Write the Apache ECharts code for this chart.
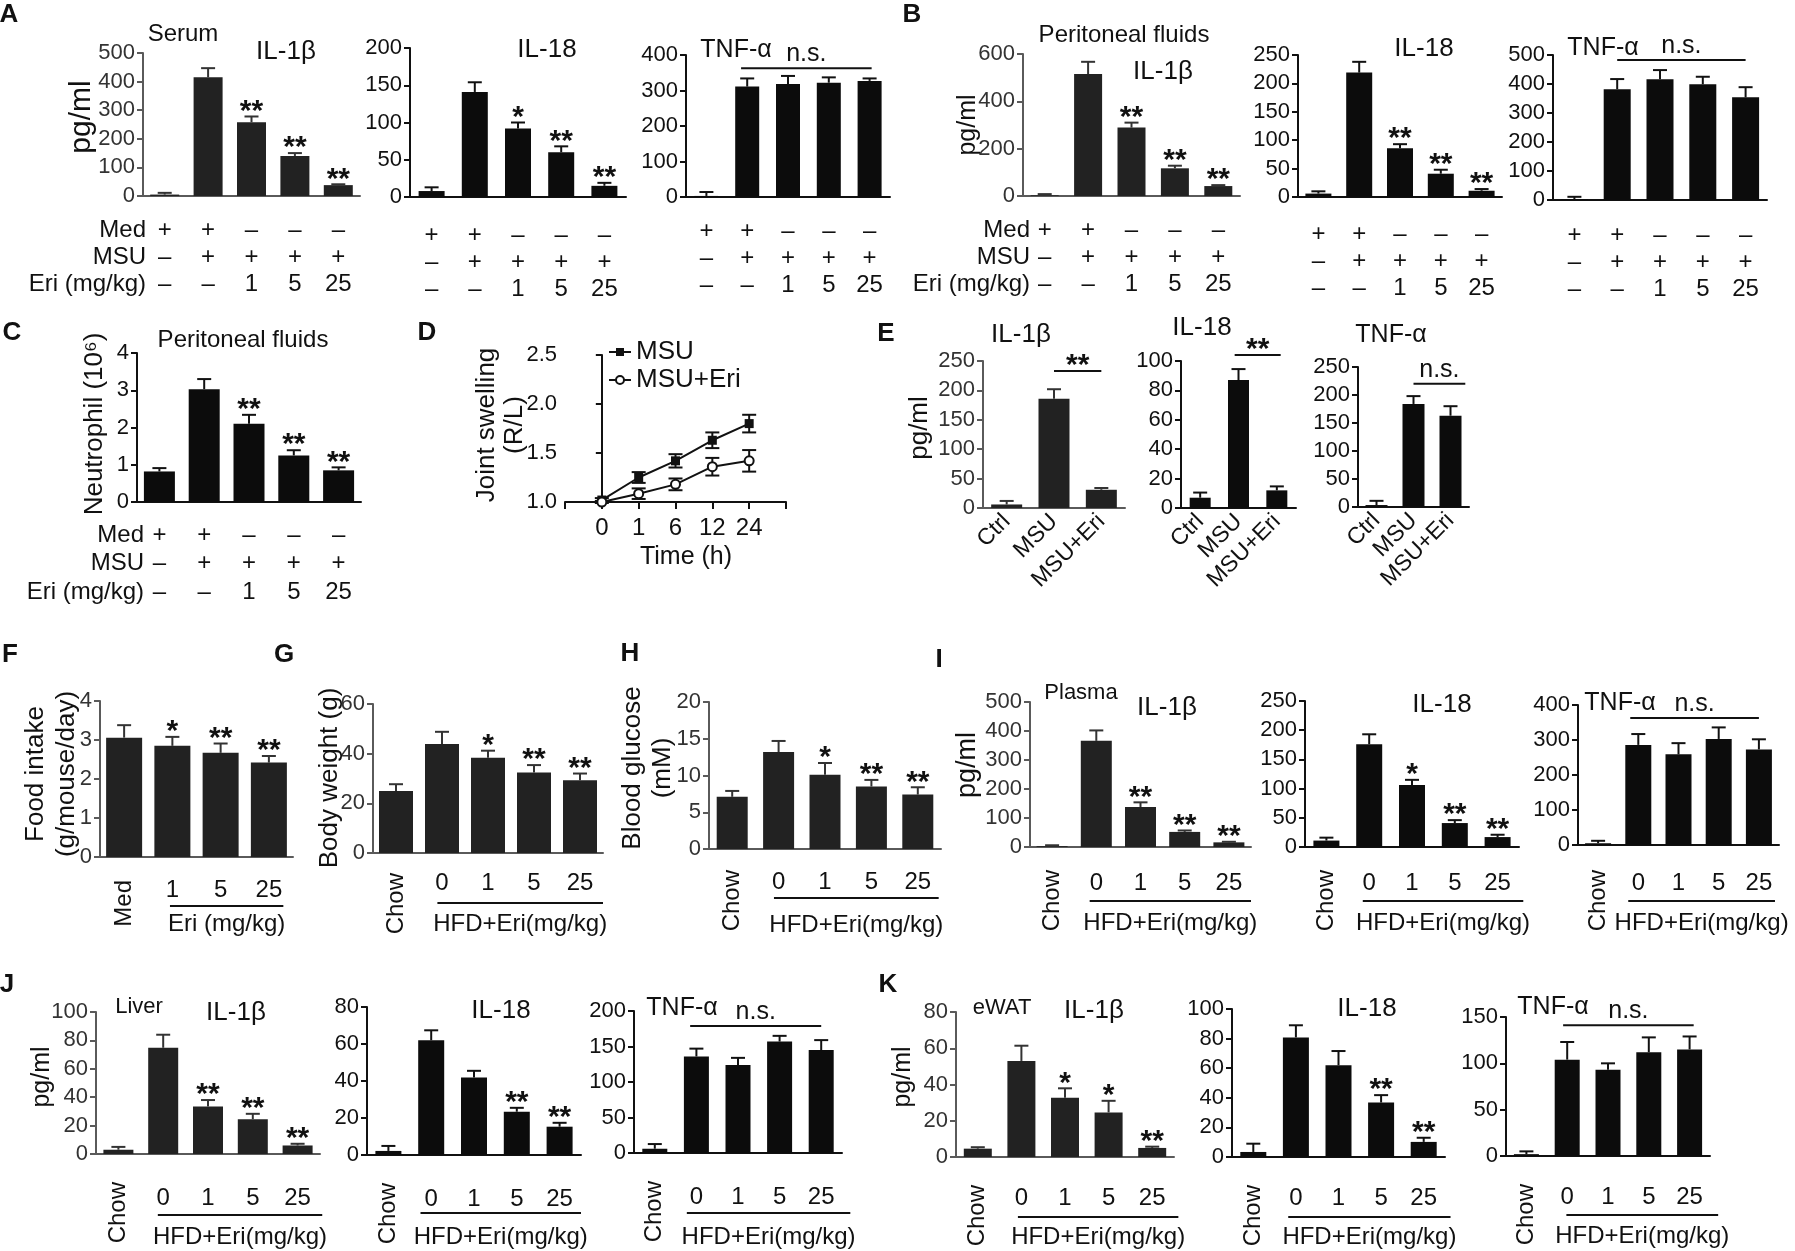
<!DOCTYPE html>
<html>
<head>
<meta charset="utf-8">
<script src="https://cdn.jsdelivr.net/npm/echarts@6/dist/echarts.min.js"></script>
<style>
html, body { margin: 0; padding: 0; background: #fff; }
#main { width: 1795px; height: 1251px; }
</style>
</head>
<body>
<div id="main"></div>
<script>
// ---- categories / row labels ----
var medRow = ['+', '+', '–', '–', '–'];
var msuRow = ['–', '+', '+', '+', '+'];
var eriRow = ['–', '–', '1', '5', '25'];
var hfdCats = ['Chow', '0', '1', '5', '25'];
var foodCats = ['Med', '1', '5', '25'];
var gaCats = ['Ctrl', 'MSU', 'MSU+Eri'];
var timeCats = ['0', '1', '6', '12', '24'];

// ---- values (mean, SEM) ----
var serumIl1b = [5, 415, 258, 140, 38],      serumIl1bErr = [6, 32, 20, 10, 3];
var serumIl18 = [8, 141, 92, 60, 15],        serumIl18Err = [5, 13, 8, 8, 4];
var serumTnf = [3, 311, 318, 322, 327],      serumTnfErr = [11, 23, 23, 15, 7];
var periIl1b = [3, 515, 289, 117, 42],       periIl1bErr = [5, 52, 21, 11, 4];
var periIl18 = [6, 219, 86, 41, 11],         periIl18Err = [4, 19, 7, 7, 3];
var periTnf = [3, 382, 416, 399, 354],       periTnfErr = [8, 35, 32, 26, 35];
var neutro = [0.82, 3.03, 2.10, 1.25, 0.85], neutroErr = [0.09, 0.27, 0.24, 0.14, 0.08];
var swellMsu = [1.02, 1.25, 1.42, 1.63, 1.80], swellMsuErr = [0.02, 0.055, 0.068, 0.08, 0.09];
var swellEri = [1.00, 1.085, 1.18, 1.36, 1.42], swellEriErr = [0.01, 0.054, 0.06, 0.09, 0.11];
var gaIl1b = [6, 186, 31],                   gaIl1bErr = [6, 16, 3];
var gaIl18 = [7, 87, 12],                    gaIl18Err = [3.5, 7.5, 2.7];
var gaTnf = [3.5, 184, 163],                 gaTnfErr = [7.5, 14, 17];
var food = [3.06, 2.85, 2.67, 2.42],         foodErr = [0.32, 0.23, 0.24, 0.17];
var bodyWt = [25.0, 43.9, 38.4, 32.4, 29.3], bodyWtErr = [2.7, 4.9, 2.8, 3.0, 2.7];
var glucose = [7.1, 13.2, 10.1, 8.5, 7.4],   glucoseErr = [0.8, 1.5, 1.6, 0.9, 1.0];
var plasIl1b = [3, 366, 138, 52, 16],        plasIl1bErr = [3, 36, 16, 5, 2];
var plasIl18 = [11, 176, 106, 41, 17],       plasIl18Err = [5, 17, 9, 5, 4];
var plasTnf = [5, 286, 259, 303, 273],       plasTnfErr = [7, 31, 32, 33, 29];
var livIl1b = [3, 74.8, 33.4, 24.5, 6],      livIl1bErr = [2, 9.2, 4.6, 3.8, 1.2];
var livIl18 = [2.2, 62, 41.9, 23.4, 15.3],   livIl18Err = [2.7, 5.4, 3.6, 2.1, 2.1];
var livTnf = [6, 136, 124, 157, 145],        livTnfErr = [6.6, 11, 10, 8, 14];
var watIl1b = [4.6, 53, 32.7, 24.6, 5],      watIl1bErr = [0.8, 8.4, 5.2, 6.4, 0.7];
var watIl18 = [3.4, 80.8, 62, 36.8, 10.2],   watIl18Err = [5.6, 8.2, 9.6, 5, 2.8];
var watTnf = [2, 104, 93, 112, 115],         watTnfErr = [3, 19, 7, 16, 14];

// significance marks
var starsMain = ['', '', '**', '**', '**'];
var starsOne = ['', '', '*', '**', '**'];
var starsLate = ['', '', '', '**', '**'];
var starsWat = ['', '', '*', '*', '**'];
var starsFood = ['', '*', '**', '**'];

var FONT = "'Liberation Sans', Arial, sans-serif";
var INK = '#111';

var grids = [], xAxes = [], yAxes = [], series = [], graphics = [];

function line(x1, y1, x2, y2, c) {
    return { type: 'line', shape: { x1: x1, y1: y1, x2: x2, y2: y2 }, style: { stroke: c || INK, lineWidth: 2 } };
}

function addText(txt, x, y, size, opt) {
    opt = opt || {};
    graphics.push({
        type: 'text', x: x, y: y, rotation: opt.rot ? Math.PI / 2 : 0, z: 50,
        style: {
            text: txt, fontSize: size, fontFamily: FONT, fontWeight: opt.bold ? 'bold' : 'normal',
            fill: INK, align: opt.align || 'center', verticalAlign: 'middle'
        }
    });
}

function addErr(xi, yi, mean, err, stars, both, col) {
    series.push({
        type: 'custom', xAxisIndex: xi, yAxisIndex: yi, silent: true, z: 5, clip: false,
        data: mean.map(function (m, i) { return [i, m, err[i]]; }),
        renderItem: function (params, api) {
            var i = api.value(0), m = api.value(1), e = api.value(2);
            var top = api.coord([i, m + e]);
            var bot = api.coord([i, both ? m - e : m]);
            var hw = 7;
            var kids = [line(top[0], top[1], bot[0], bot[1], col), line(top[0] - hw, top[1], top[0] + hw, top[1], col)];
            if (both) kids.push(line(bot[0] - hw, bot[1], bot[0] + hw, bot[1], col));
            var s = stars && stars[params.dataIndex];
            if (s) {
                kids.push({ type: 'text', x: top[0], y: top[1] + 10,
                    style: { text: s, fontSize: 30, fontWeight: 'bold', fontFamily: FONT, fill: INK, align: 'center', verticalAlign: 'bottom' } });
            }
            return { type: 'group', children: kids };
        }
    });
}

// horizontal bracket with text (n.s. / **) spanning category positions u0..u1
function addBracket(xi, yi, u0, u1, val, txt) {
    var ns = txt === 'n.s.';
    series.push({
        type: 'custom', xAxisIndex: xi, yAxisIndex: yi, silent: true, clip: false, z: 6,
        data: [[0, val]],
        renderItem: function (params, api) {
            var c = api.coord([0, api.value(1)]);
            var band = api.size([1, 0])[0];
            var xa = c[0] + u0 * band, xb = c[0] + u1 * band;
            return { type: 'group', children: [
                line(xa, c[1], xb, c[1]),
                { type: 'text', x: (xa + xb) / 2, y: c[1] - (ns ? 14 : 5),
                  style: { text: txt, fontSize: ns ? 25 : 30, fontWeight: ns ? 'normal' : 'bold', fontFamily: FONT, fill: INK, align: 'center', verticalAlign: 'middle' } }
            ] };
        }
    });
}

// underline + group caption below x axis
function addGroup(xi, yi, u0, u1, ul, tl, txt) {
    series.push({
        type: 'custom', xAxisIndex: xi, yAxisIndex: yi, silent: true, clip: false, z: 6,
        data: [[0, 0]],
        renderItem: function (params, api) {
            var c = api.coord([0, 0]);
            var band = api.size([1, 0])[0];
            var xa = c[0] + u0 * band, xb = c[0] + u1 * band;
            return { type: 'group', children: [
                line(xa, c[1] + ul, xb, c[1] + ul),
                { type: 'text', x: (xa + xb) / 2, y: c[1] + tl,
                  style: { text: txt, fontSize: 24, fontFamily: FONT, fill: INK, align: 'center', verticalAlign: 'middle' } }
            ] };
        }
    });
}

function barPanel(p) {
    var gi = grids.length;
    var axC = p.soft ? '#5a5a5a' : INK;
    var labC = p.soft ? '#333' : INK;
    grids.push({ left: p.x0, top: p.y0, width: p.x1 - p.x0, height: p.y1 - p.y0 });
    var xi = xAxes.length;
    var cats = p.cats;
    var lab = { fontSize: 24, color: INK, fontFamily: FONT, interval: 0, margin: p.lm || 20 };
    if (p.mode === 'pm') {
        cats = medRow.map(function (m, i) { return m + '\n' + msuRow[i] + '\n' + eriRow[i]; });
        lab.lineHeight = p.lh || 27;
        lab.margin = p.lm || 21;
    } else if (p.mode === 'rot') {
        lab.rotate = 45; lab.fontSize = 23; lab.margin = 10;
    } else {
        lab.formatter = function (v, i) { return i === 0 ? '' : v; };
        lab.margin = (p.lm || 20) - 1;
    }
    xAxes.push({
        gridIndex: gi, type: 'category', data: cats, position: 'bottom',
        axisLine: { lineStyle: { color: axC, width: 2 } },
        axisTick: { alignWithLabel: true, length: 7, lineStyle: { color: axC, width: 2 } },
        axisLabel: lab
    });
    if (p.mode === 'grp') {
        xAxes.push({
            gridIndex: gi, type: 'category', data: cats, position: 'bottom', offset: 0,
            axisLine: { show: false }, axisTick: { show: false },
            axisLabel: { rotate: 90, fontSize: 24, color: INK, fontFamily: FONT, interval: 0, margin: p.rm || 20,
                formatter: function (v, i) { return i === 0 ? v : ''; } }
        });
    }
    var yi = yAxes.length;
    yAxes.push({
        gridIndex: gi, type: 'value', min: 0, max: p.max, interval: p.step,
        splitLine: { show: false },
        axisLine: { show: true, lineStyle: { color: axC, width: 2 } },
        axisTick: { show: true, length: 6, lineStyle: { color: axC, width: 2 } },
        axisLabel: { fontSize: 22, color: labC, fontFamily: FONT, margin: 8 }
    });
    series.push({
        type: 'bar', xAxisIndex: xi, yAxisIndex: yi, data: p.mean, barWidth: p.bw, silent: true, z: 3,
        itemStyle: { color: p.soft ? '#222' : '#0c0c0c' }
    });
    addErr(xi, yi, p.mean, p.err, p.stars, false, p.soft ? '#333' : INK);
    if (p.ns) addBracket(xi, yi, p.ns[0], p.ns[1], p.ns[2], 'n.s.');
    if (p.sig) addBracket(xi, yi, p.sig[0], p.sig[1], p.sig[2], p.sig[3]);
    if (p.grp) addGroup(xi, yi, p.grp[0], p.grp[1], p.ul, p.tl, p.grp[2]);
    if (p.heads) {
        var lh = p.lh || 27, y = p.y1 + (p.lm || 21) + lh / 2;
        ['Med', 'MSU', 'Eri (mg/kg)'].forEach(function (h, k) {
            addText(h, p.heads, y + k * lh, 24, { align: 'right' });
        });
    }
}

var hfd = 'HFD+Eri(mg/kg)';
var panels = [
    // A
    { x0: 143, x1: 360, y0: 53, y1: 196, max: 500, step: 100, mode: 'pm', bw: 29, soft: true, mean: serumIl1b, err: serumIl1bErr, stars: starsMain, heads: 146 },
    { x0: 410, x1: 626, y0: 48, y1: 197, max: 200, step: 50, mode: 'pm', bw: 26, mean: serumIl18, err: serumIl18Err, stars: starsOne, lm: 25 },
    { x0: 686, x1: 890, y0: 55, y1: 197, max: 400, step: 100, mode: 'pm', bw: 24, mean: serumTnf, err: serumTnfErr, ns: [0.85, 4.05, 363] },
    // B
    { x0: 1023, x1: 1240, y0: 54, y1: 196, max: 600, step: 200, mode: 'pm', bw: 28, soft: true, mean: periIl1b, err: periIl1bErr, stars: starsMain, heads: 1030 },
    { x0: 1298, x1: 1502, y0: 55, y1: 197, max: 250, step: 50, mode: 'pm', bw: 26, mean: periIl18, err: periIl18Err, stars: starsMain, lm: 24 },
    { x0: 1553, x1: 1767, y0: 55, y1: 200, max: 500, step: 100, mode: 'pm', bw: 27, mean: periTnf, err: periTnfErr, ns: [1, 4, 483], lm: 22 },
    // C
    { x0: 137, x1: 361, y0: 353, y1: 502, max: 4, step: 1, mode: 'pm', lh: 28.5, lm: 19, bw: 31, mean: neutro, err: neutroErr, stars: starsMain, heads: 144 },
    // E
    { x0: 983, x1: 1125, y0: 361, y1: 508, max: 250, step: 50, mode: 'rot', cats: gaCats, bw: 31, soft: true, mean: gaIl1b, err: gaIl1bErr, sig: [1, 2, 233, '**'] },
    { x0: 1181, x1: 1296, y0: 361, y1: 508, max: 100, step: 20, mode: 'rot', cats: gaCats, bw: 21, mean: gaIl18, err: gaIl18Err, sig: [0.9, 2.1, 104, '**'] },
    { x0: 1358, x1: 1469, y0: 367, y1: 507, max: 250, step: 50, mode: 'rot', cats: gaCats, bw: 22, mean: gaTnf, err: gaTnfErr, sig: [1, 2.4, 220, 'n.s.'] },
    // F G H
    { x0: 100, x1: 293, y0: 701, y1: 857, max: 4, step: 1, mode: 'grp', cats: foodCats, bw: 36, soft: true, mean: food, err: foodErr, stars: starsFood, grp: [0.95, 3.3, 'Eri (mg/kg)'], lm: 22, rm: 23, ul: 49, tl: 67 },
    { x0: 373, x1: 603, y0: 704, y1: 853, max: 60, step: 20, mode: 'grp', cats: hfdCats, bw: 34, soft: true, mean: bodyWt, err: bodyWtErr, stars: starsOne, grp: [0.9, 4.5, hfd], lm: 19, rm: 20, ul: 50, tl: 71 },
    { x0: 709, x1: 941, y0: 702, y1: 849, max: 20, step: 5, mode: 'grp', cats: hfdCats, bw: 31, soft: true, mean: glucose, err: glucoseErr, stars: starsOne, grp: [0.9, 4.45, hfd], lm: 22, rm: 21, ul: 49, tl: 76 },
    // I
    { x0: 1030, x1: 1251, y0: 702, y1: 847, max: 500, step: 100, mode: 'grp', cats: hfdCats, bw: 31, soft: true, mean: plasIl1b, err: plasIl1bErr, stars: starsMain, grp: [0.85, 4.5, hfd], lm: 25, rm: 23, ul: 54, tl: 76 },
    { x0: 1305, x1: 1519, y0: 701, y1: 847, max: 250, step: 50, mode: 'grp', cats: hfdCats, bw: 26, mean: plasIl18, err: plasIl18Err, stars: starsOne, grp: [0.85, 4.6, hfd], lm: 25, rm: 23, ul: 54, tl: 76 },
    { x0: 1578, x1: 1779, y0: 705, y1: 845, max: 400, step: 100, mode: 'grp', cats: hfdCats, bw: 26, mean: plasTnf, err: plasTnfErr, ns: [0.8, 4, 363], grp: [0.75, 4.4, hfd], lm: 27, rm: 25, ul: 56, tl: 78 },
    // J
    { x0: 96, x1: 320, y0: 1012, y1: 1154, max: 100, step: 20, mode: 'grp', cats: hfdCats, bw: 30, soft: true, mean: livIl1b, err: livIl1bErr, stars: starsMain, grp: [0.88, 4.55, hfd], lm: 33, rm: 28, ul: 61, tl: 83 },
    { x0: 367, x1: 581, y0: 1007, y1: 1155, max: 80, step: 20, mode: 'grp', cats: hfdCats, bw: 26, mean: livIl18, err: livIl18Err, stars: starsLate, grp: [0.75, 4.5, hfd], lm: 33, rm: 28, ul: 58, tl: 82 },
    { x0: 634, x1: 842, y0: 1011, y1: 1153, max: 200, step: 50, mode: 'grp', cats: hfdCats, bw: 25, mean: livTnf, err: livTnfErr, ns: [0.85, 4, 179], grp: [0.77, 4.7, hfd], lm: 33, rm: 28, ul: 60, tl: 84 },
    // K
    { x0: 956, x1: 1174, y0: 1012, y1: 1157, max: 80, step: 20, mode: 'grp', cats: hfdCats, bw: 28, soft: true, mean: watIl1b, err: watIl1bErr, stars: starsWat, grp: [0.92, 4.6, hfd], lm: 30, rm: 28, ul: 60, tl: 80 },
    { x0: 1232, x1: 1445, y0: 1009, y1: 1157, max: 100, step: 20, mode: 'grp', cats: hfdCats, bw: 26, mean: watIl18, err: watIl18Err, stars: starsLate, grp: [0.82, 4.63, hfd], lm: 30, rm: 28, ul: 60, tl: 80 },
    { x0: 1506, x1: 1710, y0: 1017, y1: 1156, max: 150, step: 50, mode: 'grp', cats: hfdCats, bw: 25, mean: watTnf, err: watTnfErr, ns: [0.9, 4.1, 141], grp: [0.98, 4.7, hfd], lm: 30, rm: 28, ul: 59, tl: 80 }
];
panels.forEach(barPanel);

// ---- D: joint swelling time course ----
(function () {
    var gi = grids.length;
    grids.push({ left: 565, top: 355, width: 221, height: 147 });
    var xi = xAxes.length, yi = yAxes.length;
    xAxes.push({
        gridIndex: gi, type: 'value', min: -1, max: 5, interval: 1, splitLine: { show: false },
        axisLine: { onZero: false, lineStyle: { color: INK, width: 2 } },
        axisTick: { length: 7, lineStyle: { color: INK, width: 2 } },
        axisLabel: { fontSize: 24, color: INK, fontFamily: FONT, margin: 14,
            formatter: function (v) { return timeCats[v] !== undefined ? timeCats[v] : ''; } }
    });
    yAxes.push({
        gridIndex: gi, type: 'value', min: 1, max: 2.5, interval: 0.5, splitLine: { show: false },
        axisLine: { show: true, lineStyle: { color: INK, width: 2 } },
        axisTick: { show: true, length: 6, lineStyle: { color: INK, width: 2 } },
        axisLabel: { fontSize: 22, color: INK, fontFamily: FONT, margin: 8, formatter: function (v) { return v.toFixed(1); } }
    });
    addErr(xi, yi, swellMsu, swellMsuErr, null, true);
    addErr(xi, yi, swellEri, swellEriErr, null, true);
    series.push({
        name: 'MSU', type: 'line', xAxisIndex: xi, yAxisIndex: yi, z: 7,
        data: swellMsu.map(function (v, i) { return [i, v]; }),
        symbol: 'rect', symbolSize: 9, itemStyle: { color: INK }, lineStyle: { color: INK, width: 2 }
    });
    series.push({
        name: 'MSU+Eri', type: 'line', xAxisIndex: xi, yAxisIndex: yi, z: 7,
        data: swellEri.map(function (v, i) { return [i, v]; }),
        symbol: 'emptyCircle', symbolSize: 9, itemStyle: { color: INK, borderWidth: 2 }, lineStyle: { color: INK, width: 2 }
    });
})();

// ---- panel letters ----
[['A', 9, 15], ['B', 912, 15], ['C', 12, 333], ['D', 427, 333], ['E', 886, 334], ['F', 10, 655],
 ['G', 284, 655], ['H', 630, 654], ['I', 939, 660], ['J', 7, 985], ['K', 888, 985]].forEach(function (l) {
    addText(l[0], l[1], l[2], 26, { bold: true });
});

// ---- titles ----
addText('Serum', 183, 34, 24);
addText('IL-1β', 286, 52, 26);
addText('IL-18', 547, 50, 26);
addText('TNF-α', 736, 50, 25);
addText('Peritoneal fluids', 1124, 35, 24);
addText('IL-1β', 1163, 72, 26);
addText('IL-18', 1424, 49, 26);
addText('TNF-α', 1603, 48, 25);
addText('Peritoneal fluids', 243, 340, 24);
addText('IL-1β', 1021, 335, 26);
addText('IL-18', 1202, 328, 26);
addText('TNF-α', 1391, 335, 25);
addText('Plasma', 1081, 693, 22);
addText('IL-1β', 1167, 708, 26);
addText('IL-18', 1442, 705, 26);
addText('TNF-α', 1620, 703, 25);
addText('Liver', 139, 1007, 22);
addText('IL-1β', 236, 1013, 26);
addText('IL-18', 501, 1011, 26);
addText('TNF-α', 682, 1008, 25);
addText('eWAT', 1002, 1008, 22);
addText('IL-1β', 1094, 1011, 26);
addText('IL-18', 1367, 1009, 26);
addText('TNF-α', 1553, 1007, 25);
addText('Time (h)', 686, 557, 25);

// ---- y axis names ----
addText('pg/ml', 82, 117, 30, { rot: true });
addText('pg/ml', 968, 125, 25, { rot: true });
addText('Neutrophil (10⁶)', 95, 424, 26, { rot: true });
addText('Joint swelling', 487, 425, 26, { rot: true });
addText('(R/L)', 515, 425, 26, { rot: true });
addText('pg/ml', 920, 428, 26, { rot: true });
addText('Food intake', 36, 774, 26, { rot: true });
addText('(g/mouse/day)', 67, 774, 26, { rot: true });
addText('Body weight (g)', 330, 778, 26, { rot: true });
addText('Blood glucose', 633, 768, 26, { rot: true });
addText('(mM)', 663, 768, 26, { rot: true });
addText('pg/ml', 968, 765, 27, { rot: true });
addText('pg/ml', 42, 1077, 25, { rot: true });
addText('pg/ml', 903, 1077, 25, { rot: true });

var myChart = echarts.init(document.getElementById('main'));
var option = {
    animation: false,
    backgroundColor: '#fff',
    textStyle: { fontFamily: FONT },
    legend: {
        data: ['MSU', 'MSU+Eri'], left: 603, top: 334, orient: 'vertical',
        itemWidth: 22, itemHeight: 10, itemGap: 2, selectedMode: false,
        textStyle: { fontSize: 26, color: INK, fontFamily: FONT }
    },
    grid: grids,
    xAxis: xAxes,
    yAxis: yAxes,
    series: series,
    graphic: graphics
};
myChart.setOption(option);
</script>
</body>
</html>
